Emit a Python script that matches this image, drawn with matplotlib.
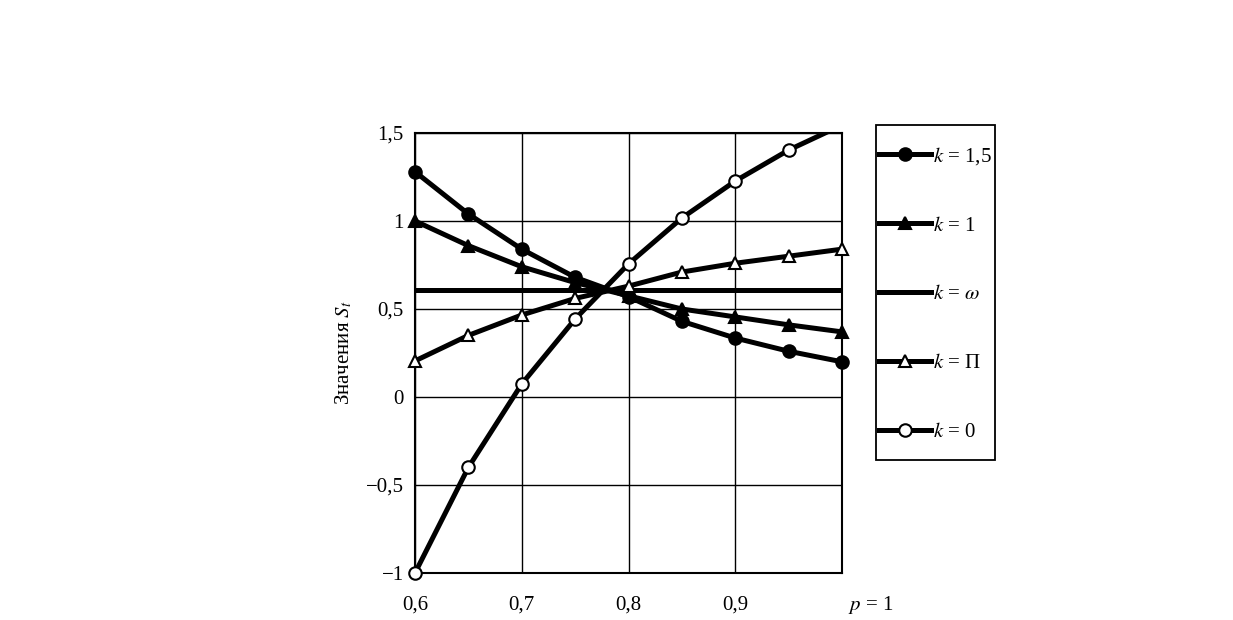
import numpy as np
import matplotlib
matplotlib.use("Agg")
import matplotlib.pyplot as plt
from matplotlib.lines import Line2D
from matplotlib.patches import Rectangle

plt.rcParams['font.family'] = ['Liberation Serif', 'DejaVu Serif']
plt.rcParams['mathtext.fontset'] = 'stix'

p = [0.6, 0.65, 0.7, 0.75, 0.8, 0.85, 0.9, 0.95, 1.0]
k15 = [1.28, 1.04, 0.84, 0.68, 0.57, 0.43, 0.335, 0.26, 0.20]
k1 = [1.0, 0.86, 0.74, 0.65, 0.575, 0.50, 0.455, 0.41, 0.37]
k_omega = [0.61] * 9
k_pi = [0.205, 0.35, 0.466, 0.56, 0.63, 0.71, 0.76, 0.80, 0.84]
k0 = [-1.0, -0.40, 0.074, 0.443, 0.756, 1.017, 1.227, 1.403, 1.545]

labels = ['$k$ = 1,5', '$k$ = 1', r'$k$ = $\omega$', '$k$ = \u041f', '$k$ = 0']
yticks = [-1, -0.5, 0, 0.5, 1, 1.5]
ytick_labels = ['\u22121', '\u22120,5', '0', '0,5', '1', '1,5']
xticks = [0.6, 0.7, 0.8, 0.9]
xtick_labels = ['0,6', '0,7', '0,8', '0,9']

fig = plt.figure(figsize=(12.33, 6.2), dpi=100)
ax = fig.add_axes([415/1233, 47/620, 427/1233, 440/620])

lw = 3.6
series = [
    (k15, 'o', 'black'),
    (k1, '^', 'black'),
    (k_omega, None, 'black'),
    (k_pi, '^', 'white'),
    (k0, 'o', 'white'),
]
handles = []
for (y, m, fc), lab in zip(series, labels):
    ax.plot(p, y, color='black', lw=lw, zorder=3)
    ms = 9 if m == 'o' else 8.5
    if m is not None:
        y = np.array(y)
        inside = y <= 1.5
        ax.plot(np.array(p)[inside], y[inside], ls='none', marker=m, ms=ms,
                mfc=fc, mec='black', mew=1.5, clip_on=False, zorder=4)
    handles.append(Line2D([], [], color='black', lw=lw, marker=m,
                          ms=ms, mfc=fc, mec='black', mew=1.5))

ax.set_xlim(0.6, 1.0)
ax.set_ylim(-1, 1.5)
ax.set_xticks(xticks)
ax.set_xticklabels(xtick_labels)
ax.set_yticks(yticks)
ax.set_yticklabels(ytick_labels)
ax.set_xticks([1.0], minor=True)
ax.tick_params(axis='both', which='both', length=0, labelsize=15)
ax.tick_params(axis='x', pad=16)
ax.tick_params(axis='y', pad=8)
ax.grid(True, which='both', color='black', lw=1.0)
for s in ax.spines.values():
    s.set_linewidth(1.5)

ax.set_ylabel('\u0417\u043d\u0430\u0447\u0435\u043d\u0438\u044f $S_t$', fontsize=15, labelpad=8)
ax.annotate('$p$ = 1', xy=(1.0, 0), xycoords=('data', 'axes fraction'),
            xytext=(4, -15), textcoords='offset points', ha='left', va='top',
            fontsize=15)

# legend frame drawn separately, legend itself without frame
fig.patches.append(Rectangle((876/1233, (620-460)/620), 119/1233, 335/620,
                             transform=fig.transFigure, fill=False,
                             edgecolor='black', lw=1.3))
leg = fig.legend(handles, labels, loc='upper left',
                 bbox_to_anchor=(879/1233, (620-145)/620),
                 frameon=False, fontsize=15, handlelength=2.5, handletextpad=0.1,
                 labelspacing=2.36, borderpad=0, borderaxespad=0)

fig.savefig('out.png', dpi=100)
